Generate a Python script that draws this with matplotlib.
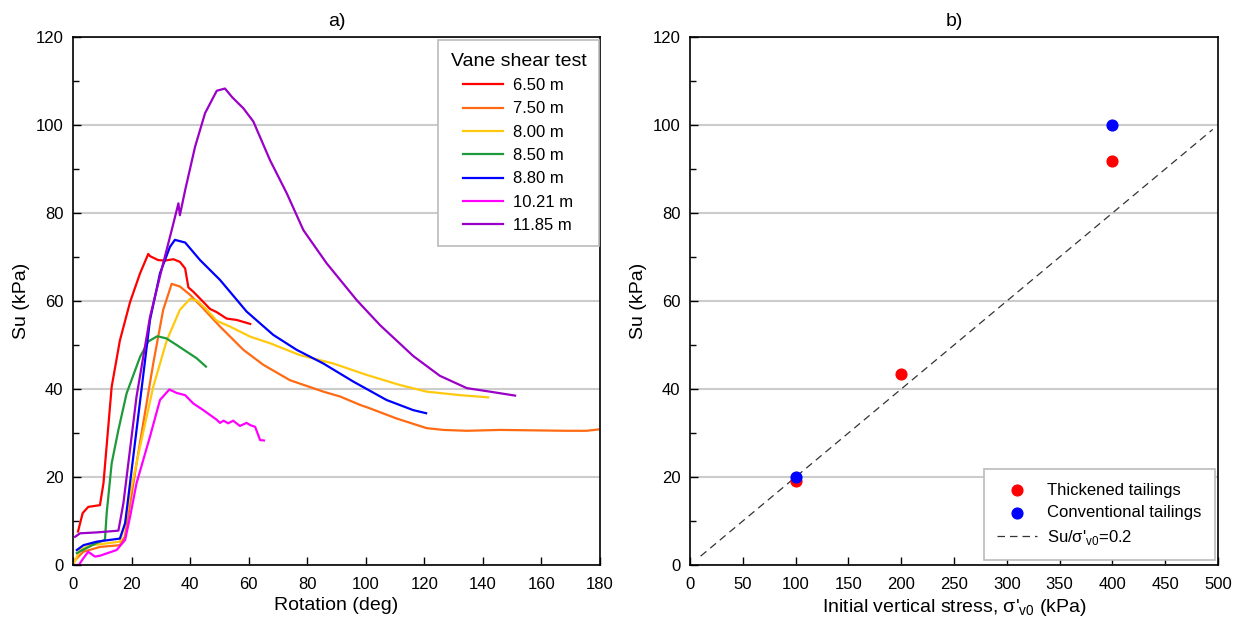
import matplotlib
matplotlib.use("Agg")
import matplotlib.pyplot as plt
from matplotlib.ticker import MultipleLocator

plt.rcParams["font.family"] = ["Liberation Sans", "DejaVu Sans"]
plt.rcParams["mathtext.fontset"] = "custom"
plt.rcParams["mathtext.rm"] = "Liberation Sans"

# --- a) vane shear test curves (rotation deg, Su kPa) ---
rot_650 = [1.7, 3.3, 5.2, 9.2, 10.4, 13.2, 16.0, 19.5, 22.9, 25.7, 26.3, 29.1, 31.4, 34.3,
           36.5, 38.3, 39.4, 41.1, 43.9, 46.8, 49.0, 52.5, 55.9, 60.5]
su_650 = [7.6, 11.8, 13.2, 13.6, 18.6, 40.5, 51.0, 59.8, 66.3, 70.7, 70.2, 69.3, 69.2, 69.5,
          68.9, 67.4, 63.1, 62.1, 60.2, 58.2, 57.5, 56.0, 55.7, 54.8]

rot_750 = [0.7, 3.5, 9.2, 16.0, 17.7, 21.7, 27.4, 30.8, 33.7, 36.5, 40.0, 44.5, 50.2, 58.2,
           65.0, 74.1, 85.5, 91.2, 98.0, 101.4, 110.5, 120.8, 126.5, 134.5, 145.8, 157.2,
           168.6, 175.4, 179.4]
su_750 = [1.1, 3.0, 4.1, 4.5, 6.4, 23.1, 45.8, 58.0, 63.9, 63.3, 61.4, 58.3, 54.2, 48.9,
          45.5, 42.0, 39.4, 38.3, 36.4, 35.6, 33.3, 31.1, 30.7, 30.5, 30.7, 30.6,
          30.5, 30.5, 30.8]

rot_800 = [0.0, 2.4, 5.8, 9.2, 16.0, 17.8, 19.5, 22.9, 27.4, 32.0, 36.5, 40.0, 42.3, 45.7,
           49.1, 53.6, 60.5, 67.3, 77.5, 88.9, 100.3, 111.7, 120.8, 132.2, 141.8]
su_800 = [0.0, 3.4, 4.5, 4.7, 5.3, 9.5, 16.3, 26.9, 40.5, 51.0, 58.0, 60.5, 60.1, 58.0,
          55.5, 54.2, 51.9, 50.4, 47.7, 45.8, 43.2, 40.9, 39.4, 38.6, 38.1]

rot_850 = [1.3, 3.6, 8.1, 10.9, 11.5, 13.2, 15.5, 18.3, 22.9, 25.7, 28.8, 31.9, 35.4, 38.8,
           42.2, 45.4]
su_850 = [2.7, 3.5, 5.0, 5.7, 11.8, 23.1, 30.7, 39.0, 47.3, 50.8, 52.0, 51.5, 50.0, 48.5,
          47.0, 45.1]

rot_880 = [1.3, 3.6, 8.1, 16.0, 17.8, 21.7, 26.3, 29.7, 33.1, 34.8, 38.3, 43.4, 50.2, 59.3,
           68.4, 76.4, 85.5, 95.7, 107.1, 116.2, 120.6]
su_880 = [3.4, 4.5, 5.3, 6.0, 9.5, 30.7, 55.7, 66.3, 72.3, 73.9, 73.3, 69.3, 64.8, 57.6,
          52.3, 48.9, 45.8, 41.7, 37.5, 35.2, 34.5]

rot_1021 = [0.0, 2.0, 3.5, 5.2, 7.5, 9.2, 14.9, 17.8, 19.5, 21.7, 26.3, 29.7, 32.9, 35.4,
            38.3, 41.1, 44.5, 49.1, 50.2, 51.4, 53.0, 54.7, 57.0, 59.3, 60.5, 62.2, 63.9, 65.2]
su_1021 = [0.0, 0.0, 1.5, 3.0, 1.9, 2.1, 3.4, 5.7, 11.0, 18.6, 29.2, 37.5, 39.9, 39.1,
           38.6, 36.7, 35.2, 33.0, 32.3, 32.8, 32.2, 32.8, 31.6, 32.3, 31.8, 31.4, 28.4, 28.3]

rot_1185 = [0.7, 2.4, 8.1, 15.5, 17.2, 21.7, 26.3, 30.8, 33.7, 36.0, 36.5, 38.3, 41.7,
            45.1, 49.1, 51.9, 54.4, 58.2, 61.6, 67.3, 73.0, 78.7, 86.6, 96.9, 104.9,
            116.2, 125.3, 134.5, 142.4, 151.0]
su_1185 = [6.4, 7.2, 7.4, 7.8, 14.0, 38.3, 56.4, 68.6, 76.1, 82.2, 79.5, 85.2, 95.1,
           102.7, 107.8, 108.3, 106.3, 103.8, 100.8, 92.0, 84.5, 76.1, 68.6, 60.2, 54.5,
           47.5, 43.0, 40.2, 39.4, 38.5]

depth_labels = ["6.50 m", "7.50 m", "8.00 m", "8.50 m", "8.80 m", "10.21 m", "11.85 m"]
depth_colors = ["#ff0000", "#ff6a13", "#ffc90e", "#1e9a3a", "#0000ff", "#ff00ff", "#9a00c8"]

# --- b) Su vs initial vertical stress ---
thick_x = [100, 200, 400]
thick_y = [19.2, 43.5, 91.8]
conv_x = [100, 400]
conv_y = [20.0, 100.0]
ratio = 0.2
ratio_x = [10, 495]

fig = plt.figure(figsize=(12.44, 6.24), dpi=100)
ax1 = fig.add_axes([0.0587, 0.0946, 0.4236, 0.846])
ax2 = fig.add_axes([0.5547, 0.0946, 0.4244, 0.846])

curves = [(rot_650, su_650), (rot_750, su_750), (rot_800, su_800), (rot_850, su_850),
          (rot_880, su_880), (rot_1021, su_1021), (rot_1185, su_1185)]
for (xs, ys), lab, col in zip(curves, depth_labels, depth_colors):
    ax1.plot(xs, ys, color=col, lw=1.6, label=lab)

ax1.set_xlim(0, 180)
ax1.set_ylim(0, 120)
ax1.xaxis.set_major_locator(MultipleLocator(20))
ax1.yaxis.set_major_locator(MultipleLocator(20))
ax1.yaxis.set_minor_locator(MultipleLocator(10))
ax1.set_xlabel("Rotation (deg)", fontsize=14, labelpad=3)
ax1.set_ylabel("Su (kPa)", fontsize=14)
ax1.set_title("a)", fontsize=14, pad=8)
leg1 = ax1.legend(loc="upper right", title="Vane shear test", fontsize=12, title_fontsize=14,
                  fancybox=False, edgecolor="#bbbbbb", framealpha=1, handlelength=2.4,
                  handletextpad=0.6, borderpad=0.75, labelspacing=0.5, borderaxespad=0,
                  bbox_to_anchor=(0.998, 0.994))
leg1.get_frame().set_linewidth(1.2)

ax2.scatter(thick_x, thick_y, s=60, color="#ff0000", zorder=3, label="Thickened tailings")
ax2.scatter(conv_x, conv_y, s=60, color="#0000ff", zorder=4, label="Conventional tailings")
ax2.plot(ratio_x, [ratio * v for v in ratio_x], color="#333333", lw=0.9,
         ls=(0, (6, 4)), label="Su/σ'$_{\\mathregular{v0}}$=0.2", zorder=2)

ax2.set_xlim(0, 500)
ax2.set_ylim(0, 120)
ax2.xaxis.set_major_locator(MultipleLocator(50))
ax2.yaxis.set_major_locator(MultipleLocator(20))
ax2.yaxis.set_minor_locator(MultipleLocator(10))
ax2.set_xlabel("Initial vertical stress, σ'$_{\\mathregular{v0}}$ (kPa)", fontsize=14, labelpad=3)
ax2.set_ylabel("Su (kPa)", fontsize=14)
ax2.set_title("b)", fontsize=14, pad=8)
leg2 = ax2.legend(loc="lower right", fontsize=12, fancybox=False, edgecolor="#bbbbbb",
                  framealpha=1, handlelength=2.4, handletextpad=0.6, borderpad=0.8,
                  labelspacing=0.45, borderaxespad=0, bbox_to_anchor=(0.994, 0.0095))
leg2.get_frame().set_linewidth(1.2)

for ax in (ax1, ax2):
    ax.yaxis.grid(True, which="major", color="#cccccc", lw=1.5)
    ax.set_axisbelow(True)
    ax.tick_params(axis="both", which="both", direction="in", labelsize=12)
    ax.tick_params(which="major", length=6, width=1)
    ax.tick_params(which="minor", length=4, width=1)
    ax.tick_params(axis="x", pad=9)
    ax.tick_params(axis="y", pad=7)
    for sp in ax.spines.values():
        sp.set_linewidth(1.2)

fig.savefig("out.png", dpi=100)
